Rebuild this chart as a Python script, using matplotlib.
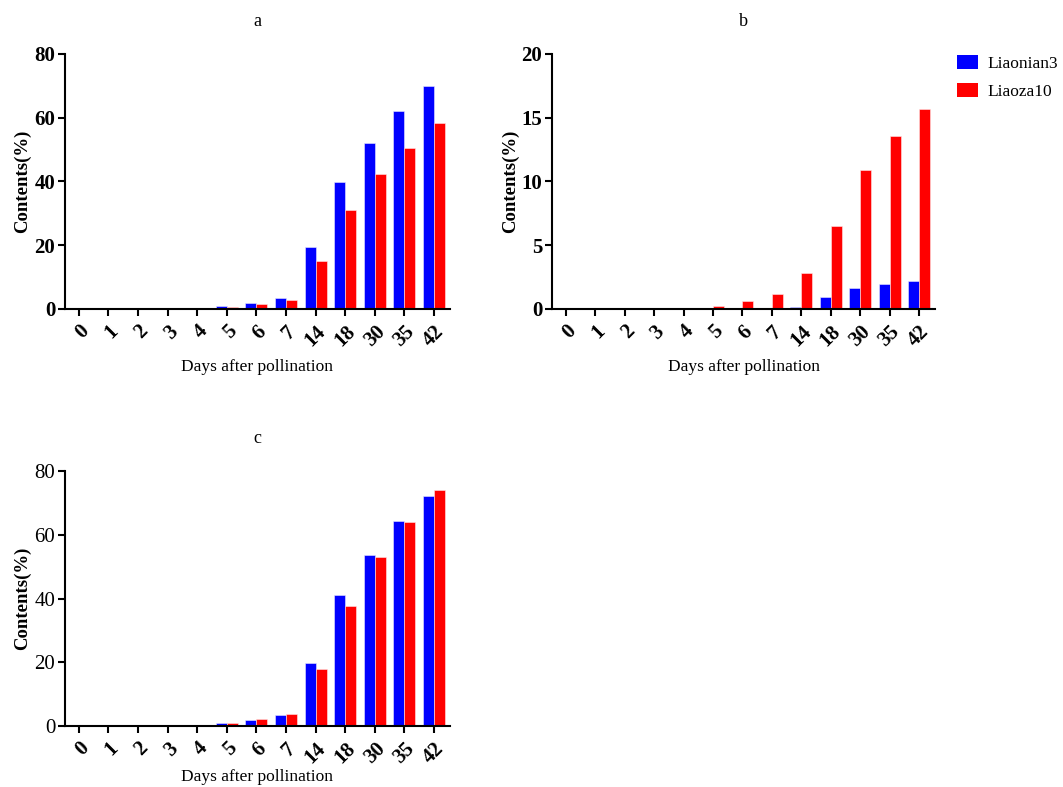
import numpy as np
import matplotlib
matplotlib.use("Agg")
import matplotlib.pyplot as plt
from matplotlib.patches import Patch

plt.rcParams["font.family"] = ["Liberation Serif", "DejaVu Serif"]

days = ["0", "1", "2", "3", "4", "5", "6", "7", "14", "18", "30", "35", "42"]
series_names = ["Liaonian3", "Liaoza10"]
colors = ["#0000ff", "#ff0000"]

a_liaonian3 = [0, 0, 0, 0, 0.4, 0.9, 1.8, 3.6, 19.6, 39.9, 52.0, 62.1, 70.0]
a_liaoza10 = [0, 0, 0, 0, 0.1, 0.6, 1.5, 2.7, 15.2, 31.0, 42.2, 50.5, 58.5]

b_liaonian3 = [0, 0, 0, 0, 0, 0, 0, 0.05, 0.16, 0.96, 1.62, 1.98, 2.19]
b_liaoza10 = [0, 0, 0, 0, 0, 0.23, 0.65, 1.17, 2.79, 6.47, 10.87, 13.59, 15.67]

c_liaonian3 = [0, 0, 0, 0, 0.4, 0.8, 1.8, 3.6, 19.8, 41.1, 53.6, 64.2, 72.1]
c_liaoza10 = [0, 0, 0, 0, 0.2, 0.9, 2.1, 3.9, 17.9, 37.6, 53.1, 63.9, 74.0]

fig = plt.figure(figsize=(10.63, 7.87), dpi=100)


def draw_panel(rect, title, blue, red, ymax, ystep, bold_yticks, xpad):
    ax = fig.add_axes(rect)
    x = np.arange(len(days))
    w = 0.37
    ax.bar(x - w / 2, blue, width=w, color=colors[0], edgecolor="#e8e8ff", linewidth=0.4)
    ax.bar(x + w / 2, red, width=w, color=colors[1], edgecolor="#ffe8e8", linewidth=0.4)
    ax.set_xlim(-0.47, 12.54)
    ax.set_ylim(0, ymax)
    ax.set_yticks(np.arange(0, ymax + 0.1, ystep))
    ax.set_xticks(x)
    ax.set_xticklabels(days, rotation=45, ha="right", rotation_mode="anchor",
                       fontsize=15, fontweight="bold")
    for lab in ax.get_yticklabels():
        lab.set_fontsize(15)
        if bold_yticks:
            lab.set_fontweight("bold")
    for s in ["top", "right"]:
        ax.spines[s].set_visible(False)
    for s in ["left", "bottom"]:
        ax.spines[s].set_linewidth(1.5)
    ax.tick_params(axis="both", direction="out", length=5, width=1.5, pad=2)
    ax.tick_params(axis="x", pad=4)
    ax.set_xlabel("Days after pollination", fontsize=12.5, labelpad=xpad)
    ax.set_ylabel("Contents(%)", fontsize=13.5, fontweight="bold", labelpad=2)
    ax.set_title(title, fontsize=13, pad=20)
    return ax


draw_panel([0.0611, 0.6074, 0.3622, 0.324], "a", a_liaonian3, a_liaoza10, 80, 20, True, 6)
draw_panel([0.5193, 0.6074, 0.3603, 0.324], "b", b_liaonian3, b_liaoza10, 20, 5, True, 6)
draw_panel([0.0611, 0.0775, 0.3622, 0.324], "c", c_liaonian3, c_liaoza10, 80, 20, False, 1)

handles = [Patch(facecolor=c, edgecolor="none") for c in colors]
fig.legend(handles, series_names, loc="upper left", bbox_to_anchor=(0.9, 0.93),
           frameon=False, fontsize=12.5, handlelength=1.2, handleheight=0.9,
           handletextpad=0.6, labelspacing=0.6, borderaxespad=0, borderpad=0)

fig.savefig("out.png", dpi=100)
